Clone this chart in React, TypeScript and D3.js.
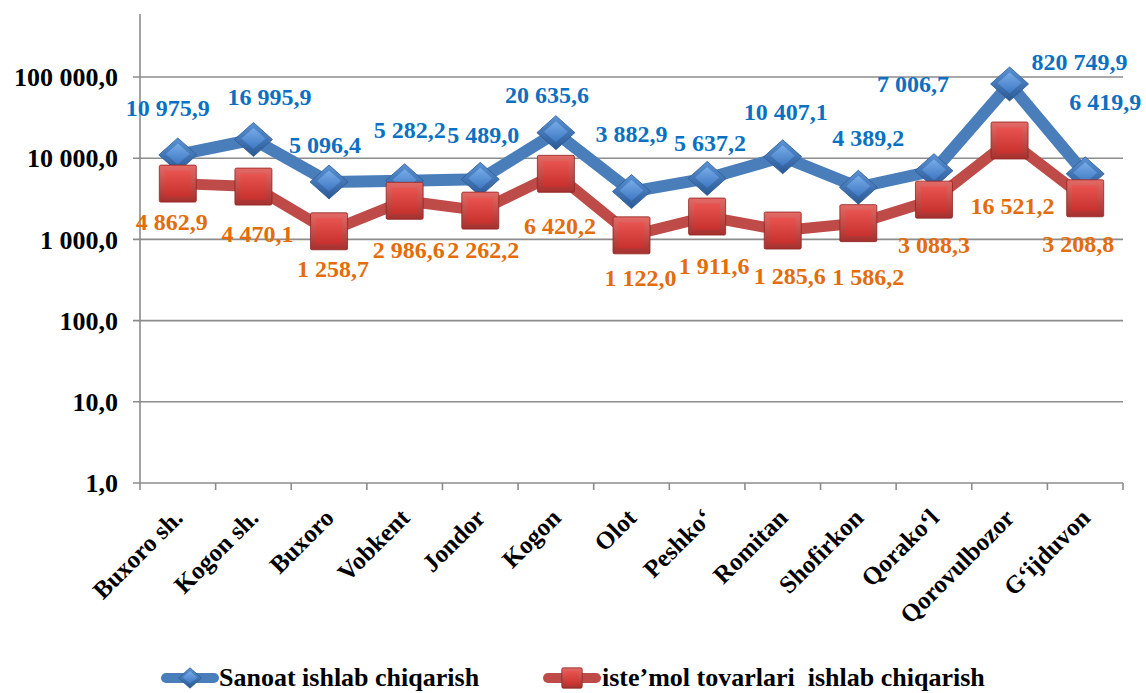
import React from "react";
import * as d3 from "d3";

const categories = [
  "Buxoro sh.", "Kogon sh.", "Buxoro", "Vobkent", "Jondor", "Kogon", "Olot",
  "Peshko‘", "Romitan", "Shofirkon", "Qorako‘l", "Qorovulbozor", "G‘ijduvon",
];
// plotted values (Qorovulbozor point sits at ~82 075 on the log axis)
const sanoatValues = [10975.9, 16995.9, 5096.4, 5282.2, 5489.0, 20635.6, 3882.9, 5637.2, 10407.1, 4389.2, 7006.7, 82074.99, 6419.9];
const sanoatLabels = ["10 975,9", "16 995,9", "5 096,4", "5 282,2", "5 489,0", "20 635,6", "3 882,9", "5 637,2", "10 407,1", "4 389,2", "7 006,7", "820 749,9", "6 419,9"];
const istemolValues = [4862.9, 4470.1, 1258.7, 2986.6, 2262.2, 6420.2, 1122.0, 1911.6, 1285.6, 1586.2, 3088.3, 16521.2, 3208.8];
const istemolLabels = ["4 862,9", "4 470,1", "1 258,7", "2 986,6", "2 262,2", "6 420,2", "1 122,0", "1 911,6", "1 285,6", "1 586,2", "3 088,3", "16 521,2", "3 208,8"];
const yTicks = [1, 10, 100, 1000, 10000, 100000];
const yTickLabels = ["1,0", "10,0", "100,0", "1 000,0", "10 000,0", "100 000,0"];
const seriesNames = ["Sanoat ishlab chiqarish", "iste’mol tovarlari  ishlab chiqarish"];

// label placement nudges (styling, px relative to the marker)
const blueNudge: [number, number][] = [[-10, -47], [16, -43], [-4, -37], [5, -51], [3, -45], [-9, -38], [0, -58], [3, -36], [3, -45], [10, -50], [-21, -87], [70, -22], [20, -72]];
const redNudge: [number, number][] = [[-6, 38], [4, 47], [4, 37], [4, 49], [3, 39], [4, 52], [9, 42], [7, 49], [7, 45], [10, 53], [0, 45], [3, 65], [-7, 45]];

const W = 1146, H = 693;
const left = 140, right = 1123, top = 14, bottom = 483;
const FONT = "'Liberation Serif', 'Times New Roman', serif";

export default function App() {
  const x = d3.scaleBand<string>().domain(categories).range([left, right]).padding(0);
  const decade = (bottom - 77) / 5;
  const yMax = Math.pow(10, (bottom - top) / decade);
  const y = d3.scaleLog().domain([1, yMax]).range([bottom, top]);
  const cx = (c: string) => (x(c) as number) + x.bandwidth() / 2;

  const line = d3.line<number>().x((_, i) => cx(categories[i])).y((d) => y(d));
  const bw = x.bandwidth();
  const boundaries = d3.range(categories.length + 1).map((i) => left + i * bw);

  const diamond = (dx: number, dy: number, w: number, h: number) =>
    `M${dx},${dy - h}L${dx + w},${dy}L${dx},${dy + h}L${dx - w},${dy}Z`;

  const Diamond = ({ px, py, s }: { px: number; py: number; s: number }) => (
    <g>
      <path d={diamond(px, py, 19 * s, 17 * s)} fill="url(#dOuter)" stroke="#2d5a94" strokeWidth={0.8} />
      <path d={diamond(px, py - 1 * s, 12 * s, 10.5 * s)} fill="url(#dInner)" />
    </g>
  );
  const Square = ({ px, py, s }: { px: number; py: number; s: number }) => (
    <g>
      <rect x={px - 18.5 * s} y={py - 18.5 * s} width={37 * s} height={37 * s} fill="url(#sOuter)" stroke="#8e2523" strokeWidth={0.8} rx={1.5} />
      <rect x={px - 13 * s} y={py - 13 * s} width={26 * s} height={26 * s} fill="url(#sInner)" />
    </g>
  );

  return (
    <svg width={W} height={H} style={{ position: "absolute", left: 0, top: 0, background: "#fff" }} fontFamily={FONT}>
      <defs>
        <linearGradient id="dOuter" x1="0" y1="0" x2="0" y2="1">
          <stop offset="0" stopColor="#5b93d6" />
          <stop offset="1" stopColor="#2a5894" />
        </linearGradient>
        <linearGradient id="dInner" x1="0" y1="0" x2="0" y2="1">
          <stop offset="0" stopColor="#78ace8" />
          <stop offset="1" stopColor="#3d77c2" />
        </linearGradient>
        <linearGradient id="sOuter" x1="0" y1="0" x2="0" y2="1">
          <stop offset="0" stopColor="#e46a66" />
          <stop offset="1" stopColor="#a5302d" />
        </linearGradient>
        <linearGradient id="sInner" x1="0" y1="0" x2="0" y2="1">
          <stop offset="0" stopColor="#e85450" />
          <stop offset="1" stopColor="#c7302d" />
        </linearGradient>
      </defs>

      {/* gridlines */}
      {yTicks.map((t) => (
        <line key={t} x1={left - 7} x2={right} y1={y(t)} y2={y(t)} stroke="#8c8c8c" strokeWidth={1.6} />
      ))}
      {/* y axis */}
      <line x1={left} x2={left} y1={top} y2={bottom} stroke="#8c8c8c" strokeWidth={1.6} />
      {/* x axis ticks */}
      {boundaries.map((b, i) => (
        <line key={i} x1={b} x2={b} y1={bottom} y2={bottom + 7} stroke="#8c8c8c" strokeWidth={1.6} />
      ))}
      {/* y tick labels */}
      {yTicks.map((t, i) => (
        <text key={t} x={118} y={y(t)} dy="0.35em" textAnchor="end" fontSize={26} fontWeight="bold" fill="#000">
          {yTickLabels[i]}
        </text>
      ))}
      {/* x labels */}
      {categories.map((c) => (
        <text key={c} transform={`translate(${cx(c) - 6},${bottom + 24}) rotate(-45)`} dy="0.7em" textAnchor="end" fontSize={25} fontWeight="bold" fill="#000">
          {c}
        </text>
      ))}

      {/* lines */}
      <path d={line(sanoatValues) || ""} fill="none" stroke="#4a7ebb" strokeWidth={12} strokeLinejoin="round" />
      <path d={line(istemolValues) || ""} fill="none" stroke="#be4b48" strokeWidth={11} strokeLinejoin="round" />

      {/* markers */}
      {sanoatValues.map((v, i) => (
        <Diamond key={"d" + i} px={cx(categories[i])} py={y(v)} s={1} />
      ))}
      {istemolValues.map((v, i) => (
        <Square key={"s" + i} px={cx(categories[i])} py={y(v)} s={1} />
      ))}

      {/* data labels */}
      {sanoatValues.map((v, i) => (
        <text key={"bl" + i} x={cx(categories[i]) + blueNudge[i][0]} y={y(v) + blueNudge[i][1]} dy="0.35em" textAnchor="middle" fontSize={24} fontWeight="bold" fill="#0b70c2">
          {sanoatLabels[i]}
        </text>
      ))}
      {istemolValues.map((v, i) => (
        <text key={"rl" + i} x={cx(categories[i]) + redNudge[i][0]} y={y(v) + redNudge[i][1]} dy="0.35em" textAnchor="middle" fontSize={24} fontWeight="bold" fill="#e46c0a">
          {istemolLabels[i]}
        </text>
      ))}

      {/* legend */}
      <line x1={166} x2={214} y1={678} y2={678} stroke="#4a7ebb" strokeWidth={10} strokeLinecap="round" />
      <Diamond px={190} py={678} s={0.6} />
      <text x={219} y={686} fontSize={26} fontWeight="bold" fill="#000">{seriesNames[0]}</text>
      <line x1={548} x2={596} y1={678} y2={678} stroke="#be4b48" strokeWidth={10} strokeLinecap="round" />
      <Square px={572} py={678} s={0.55} />
      <text x={602} y={686} fontSize={26} fontWeight="bold" fill="#000" style={{ whiteSpace: "pre" }}>{seriesNames[1]}</text>
    </svg>
  );
}
